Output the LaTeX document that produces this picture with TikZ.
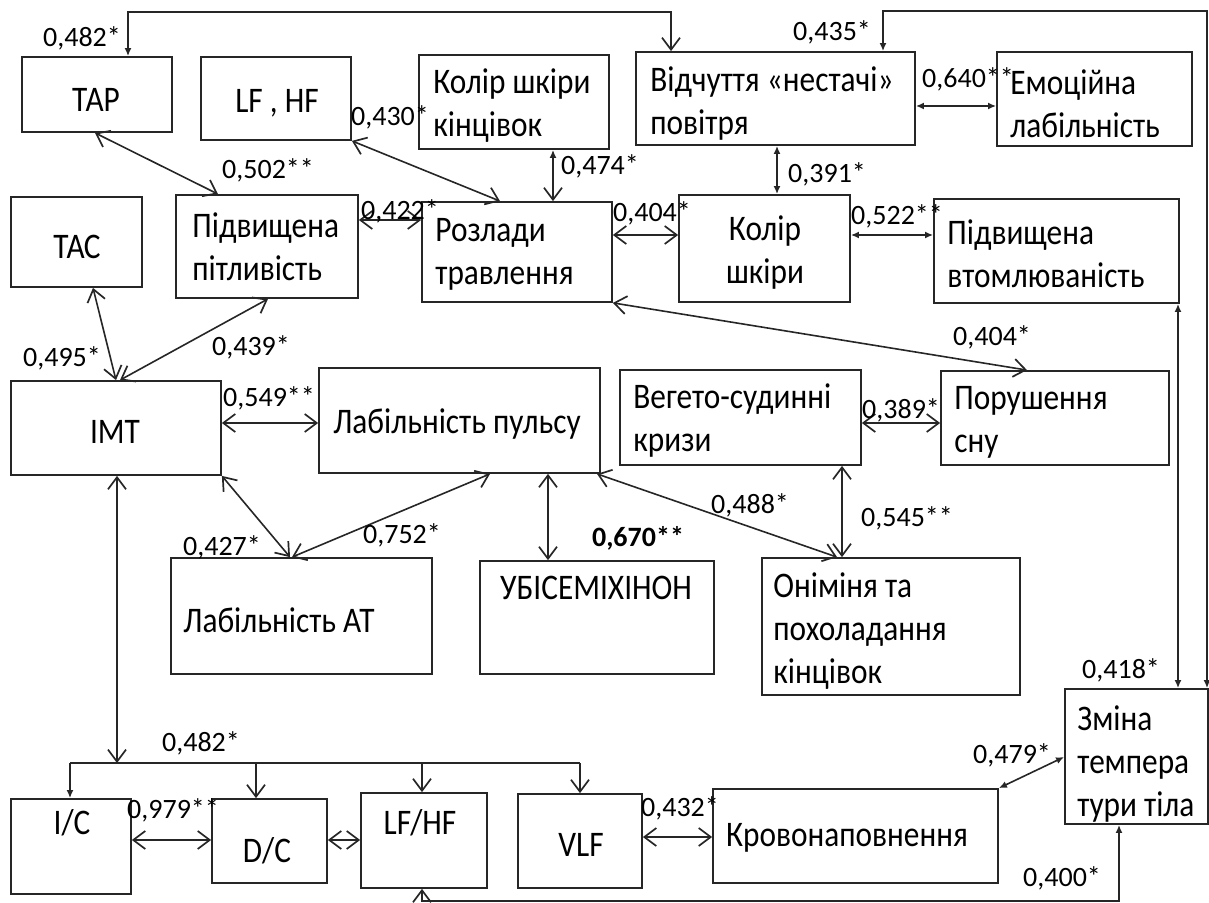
\documentclass[tikz,border=0pt]{standalone}
\usepackage{fontspec}
\setmainfont{Carlito}[FakeStretch=0.87]
\newfontfamily\lblfont{Carlito}
\usetikzlibrary{arrows.meta,fit}
\begin{document}
\begin{tikzpicture}[x=0.5pt,y=-0.5pt,
  box/.style={draw=black!85,line width=0.9pt,inner sep=0pt},
  txt/.style={inner sep=0pt,font=\fontsize{18}{21.5}\selectfont,align=left},
  lbl/.style={inner sep=0pt,font=\lblfont\fontsize{14}{16}\selectfont},
  conn/.style={draw=black!85,line width=0.8pt},
  chev/.tip={Straight Barb[length=6pt,width=9pt,line width=0.85pt]},
  sm/.tip={Latex[length=4pt,width=3.5pt]},
]
\useasboundingbox (0,0) rectangle (1209,903);
% boxes
\node[box,fit={(22,57) (172,132)}] (tar) {};
\node[box,fit={(201,57) (351,140)}] (lfhf) {};
\node[box,fit={(419,55) (609,149)}] (kshk) {};
\node[box,fit={(636,52) (915,145)}] (vid) {};
\node[box,fit={(997,52) (1192,146)}] (emo) {};
\node[box,fit={(11,197) (142,287)}] (tac) {};
\node[box,fit={(176,195) (358,298)}] (pidv) {};
\node[box,fit={(422,202) (612,302)}] (rozl) {};
\node[box,fit={(679,195) (850,302)}] (kolir) {};
\node[box,fit={(934,199) (1179,303)}] (vtom) {};
\node[box,fit={(11,381) (221,475)}] (imt) {};
\node[box,fit={(319,368) (600,473)}] (labp) {};
\node[box,fit={(620,370) (861,465)}] (veg) {};
\node[box,fit={(941,371) (1169,465)}] (por) {};
\node[box,fit={(171,558) (432,674)}] (labat) {};
\node[box,fit={(480,561) (714,674)}] (ubi) {};
\node[box,fit={(762,558) (1020,695)}] (onim) {};
\node[box,fit={(1065,689) (1208,824)}] (zmina) {};
\node[box,fit={(11,799) (131,894)}] (ic) {};
\node[box,fit={(212,799) (327,883)}] (dc) {};
\node[box,fit={(361,793) (487,888)}] (lfhfb) {};
\node[box,fit={(518,794) (642,888)}] (vlf) {};
\node[box,fit={(713,789) (998,883)}] (krov) {};
% texts
\node[txt] (tarT) at (96,100) {ТАР};
\node[txt] (lfhfT) at (277,103) {LF , HF};
\node[txt] (tacT) at (77,247) {ТАС};
\node[txt,anchor=west] (kshkT) at (433,106) {Колір шкіри\\кінцівок};
\node[txt,anchor=west] (vidT) at (650,104) {Відчуття «нестачі»\\повітря};
\node[txt,anchor=west] (emoT) at (1010,104) {Емоційна\\лабільність};
\node[txt,anchor=west] (pidvT) at (192,247) {Підвищена\\пітливість};
\node[txt,anchor=west] (rozlT) at (435,254) {Розлади\\травлення};
\node[txt,align=center] (kolirT) at (765,253) {Колір\\шкіри};
\node[txt,anchor=west] (vtomT) at (947,254) {Підвищена\\втомлюваність};
\node[txt] (imtT) at (115,432) {ІМТ};
\node[txt] (labpT) at (457,424) {Лабільність пульсу};
\node[txt,anchor=west] (vegT) at (633,421) {Вегето-судинні\\кризи};
\node[txt,anchor=west] (porT) at (954,422) {Порушення\\сну};
\node[txt,anchor=west] (labatT) at (183,620) {Лабільність АТ};
\node[txt] (ubiT) at (596,588) {УБІСЕМІХІНОН};
\node[txt,anchor=west] (onimT) at (773,631) {Оніміня та\\похоладання\\кінцівок};
\node[txt,anchor=west] (zminaT) at (1077,764) {Зміна\\темпера\\тури тіла};
\node[txt] (icT) at (72,823) {I/C};
\node[txt] (dcT) at (267,851) {D/C};
\node[txt] (lfhfbT) at (420,823) {LF/HF};
\node[txt] (vlfT) at (581,845) {VLF};
\node[txt] (krovT) at (847,838) {Кровонаповнення};
% helper coordinates
\coordinate (topA) at (128,12);
\coordinate (topB) at (671,12);
\coordinate (topC) at (883,11);
\coordinate (topD) at (1207,11);
\coordinate (br) at (117,763);
\coordinate (brL) at (70,763);
\coordinate (brDC) at (256,763);
\coordinate (brLF) at (422,763);
\coordinate (brR) at (580,763);
\coordinate (botL) at (422,901);
\coordinate (botR) at (1119,901);
% connectors
\draw[conn,arrows={sm-chev}] (tar.north -| topA) -- (topA) -- (topB) -- (vid.north -| topB);
\draw[conn,arrows={sm-sm}] (vid.north -| topC) -- (topC) -- (topD) -- (zmina.north -| topD);
\draw[conn,arrows={chev-chev}] (tar.south -| 95,0) -- (pidv.north -| 218,0);
\draw[conn,arrows={chev-chev}] (lfhf.south east) -- (rozl.north -| 500,0);
\draw[conn,arrows={chev-chev}] (pidv.east |- 0,220) -- (rozl.west |- 0,220);
\draw[conn,arrows={sm-chev}] (kshk.south -| 553,0) -- (rozl.north -| 553,0);
\draw[conn,arrows={chev-chev}] (rozl.east |- 0,235) -- (kolir.west |- 0,235);
\draw[conn,arrows={sm-sm}] (vid.south -| 777,0) -- (kolir.north -| 777,0);
\draw[conn,arrows={sm-sm}] (vid.east |- 0,106) -- (emo.west |- 0,106);
\draw[conn,arrows={sm-sm}] (kolir.east |- 0,235) -- (vtom.west |- 0,235);
\draw[conn,arrows={sm-sm}] (vtom.south -| 1178,0) -- (zmina.north -| 1178,0);
\draw[conn,arrows={chev-chev}] (rozl.south east) -- (por.north -| 1027,0);
\draw[conn,arrows={chev-chev}] (tac.south -| 93,0) -- (imt.north -| 116,0);
\draw[conn,arrows={chev-chev}] (pidv.south -| 268,0) -- (imt.north -| 120,0);
\draw[conn,arrows={chev-chev}] (imt.east |- 0,423) -- (labp.west |- 0,423);
\draw[conn,arrows={chev-chev}] (imt.south east) -- (labat.north -| 290,0);
\draw[conn,arrows={chev-chev}] (labp.south -| 490,0) -- (labat.north -| 292,0);
\draw[conn,arrows={chev-chev}] (labp.south -| 548,0) -- (ubi.north -| 548,0);
\draw[conn,arrows={chev-chev}] (labp.south -| 597,0) -- (onim.north -| 837,0);
\draw[conn,arrows={chev-chev}] (veg.east |- 0,423) -- (por.west |- 0,423);
\draw[conn,arrows={chev-chev}] (veg.south -| 842,0) -- (onim.north -| 842,0);
\draw[conn,arrows={chev-chev}] (imt.south -| br) -- (br);
\draw[conn] (brL) -- (brR);
\draw[conn,arrows={-sm}] (brL) -- (ic.north -| brL);
\draw[conn,arrows={-chev}] (brDC) -- (dc.north -| brDC);
\draw[conn,arrows={-chev}] (brLF) -- (lfhfb.north -| brLF);
\draw[conn,arrows={-chev}] (brR) -- (vlf.north -| brR);
\draw[conn,arrows={chev-chev}] (ic.east |- 0,840) -- (dc.west |- 0,840);
\draw[conn,arrows={chev-chev}] (dc.east |- 0,840) -- (lfhfb.west |- 0,840);
\draw[conn,arrows={chev-chev}] (vlf.east |- 0,837) -- (krov.west |- 0,837);
\draw[conn,arrows={sm-sm}] (krov.north east) -- (zmina.west |- 0,757);
\draw[conn,arrows={chev-sm}] (lfhfb.south -| botL) -- (botL) -- (botR) -- (zmina.south -| botR);
% labels
\node[lbl] (l1) at (82,38) {0,482*};
\node[lbl] (l2) at (268,170) {0,502**};
\node[lbl] (l3) at (390,117) {0,430*};
\node[lbl] (l4) at (400,211) {0,422*};
\node[lbl] (l5) at (600,166) {0,474*};
\node[lbl] (l6) at (652,213) {0,404*};
\node[lbl] (l7) at (827,174) {0,391*};
\node[lbl] (l8) at (968,79) {0,640**};
\node[lbl] (l9) at (832,32) {0,435*};
\node[lbl] (l10) at (897,216) {0,522**};
\node[lbl] (l11) at (62,358) {0,495*};
\node[lbl] (l12) at (251,347) {0,439*};
\node[lbl] (l13) at (269,398) {0,549**};
\node[lbl] (l14) at (222,547) {0,427*};
\node[lbl] (l15) at (402,535) {0,752*};
\node[lbl,font=\lblfont\bfseries\fontsize{14}{16}\selectfont] (l16) at (638,538) {0,670**};
\node[lbl] (l17) at (750,505) {0,488*};
\node[lbl] (l18) at (992,337) {0,404*};
\node[lbl] (l19) at (901,410) {0,389*};
\node[lbl] (l20) at (907,518) {0,545**};
\node[lbl] (l21) at (201,743) {0,482*};
\node[lbl] (l22) at (173,810) {0,979**};
\node[lbl] (l23) at (680,808) {0,432*};
\node[lbl] (l24) at (1121,670) {0,418*};
\node[lbl] (l25) at (1012,755) {0,479*};
\node[lbl] (l26) at (1062,878) {0,400*};
\end{tikzpicture}
\end{document}
